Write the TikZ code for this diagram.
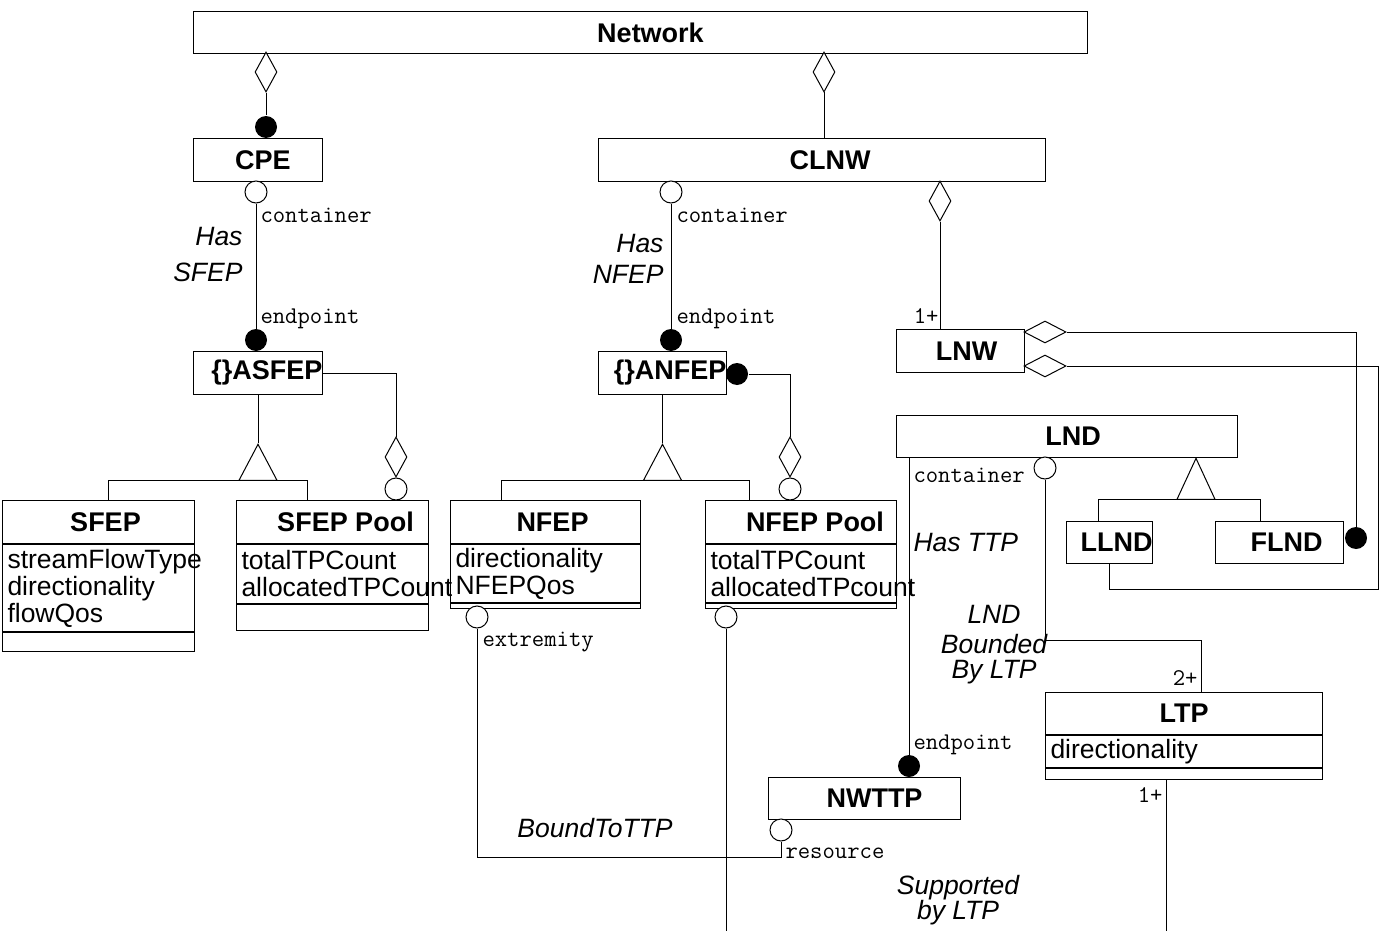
\documentclass[tikz,border=0pt]{standalone}
\usepackage{fontspec}
\setmainfont{Liberation Sans}
\usepackage{tikz}
\usetikzlibrary{shapes.geometric,positioning}

\newcommand\clsfont{\fontsize{27}{30}\selectfont\bfseries}
\newcommand\attrfont{\fontsize{26.5}{27}\selectfont\hyphenpenalty=10000\relax}
\newcommand\rolefont{\fontsize{24}{26}\selectfont\ttfamily}
\newcommand\assocfont{\fontsize{26.5}{27}\selectfont\itshape}

\begin{document}
\begin{tikzpicture}[x=1pt, y=-1pt, line width=1pt,
  cls/.style={draw, rectangle, anchor=north west, inner sep=0pt, font=\clsfont},
  nudge/.style={execute at begin node={\hspace*{#1}}},
  attr/.style={draw, rectangle, anchor=north west, inner xsep=5pt, inner ysep=0pt,
               font=\attrfont, align=left},
  ops/.style={draw, rectangle, anchor=north west, inner sep=0pt},
  agg/.style={draw, diamond, fill=white, inner sep=0pt, minimum width=22pt, minimum height=40pt},
  aggh/.style={agg, minimum width=42pt, minimum height=22pt},
  role/.style={draw, circle, fill=white, inner sep=0pt, minimum size=22pt},
  dot/.style={circle, fill=black, inner sep=0pt, minimum size=22pt},
  gen/.style={draw, isosceles triangle, isosceles triangle stretches, shape border rotate=90,
              inner sep=0pt, minimum width=38pt, minimum height=36pt, fill=white},
  rl/.style={font=\rolefont, inner sep=0pt},
  asc/.style={font=\assocfont, inner sep=0pt, align=center}
]
\useasboundingbox (0,0) rectangle (1384,931);

% ======= classes =======
\node[cls, nudge=20pt, minimum width=894pt, minimum height=42pt] (network) at (193,11) {Network};
\node[cls, nudge=10pt, minimum width=129pt, minimum height=43pt] (cpe) at (193,138) {CPE};
\node[cls, nudge=16pt, minimum width=447pt, minimum height=43pt] (clnw) at (598,138) {CLNW};
\node[cls, minimum width=129pt, minimum height=43pt, text width=129pt, align=right] (asfep) at (193,351) {\{\}ASFEP};
\node[cls, minimum width=128pt, minimum height=43pt, text width=128pt, align=right] (anfep) at (598,351) {\{\}ANFEP};

\node[cls, nudge=14pt, minimum width=192pt, minimum height=43pt] (sfep) at (2,500) {SFEP};
\node[attr, text width=182pt, minimum height=87pt] (sfepAttr) at (sfep.south west) {streamFlowType\\directionality\\flowQos};
\node[ops, minimum width=192pt, minimum height=19pt] (sfepOps) at (sfepAttr.south west) {};

\node[cls, nudge=26pt, minimum width=192pt, minimum height=43pt] (sfepPool) at (236,500) {SFEP Pool};
\node[attr, text width=182pt, minimum height=59pt] (sfepPoolAttr) at (sfepPool.south west) {totalTPCount\\allocatedTPCount};
\node[ops, minimum width=192pt, minimum height=26pt] (sfepPoolOps) at (sfepPoolAttr.south west) {};

\node[cls, nudge=14pt, minimum width=190pt, minimum height=43pt] (nfep) at (450,500) {NFEP};
\node[attr, text width=180pt, minimum height=58pt] (nfepAttr) at (nfep.south west) {directionality\\NFEPQos};
\node[ops, minimum width=190pt, minimum height=5pt] (nfepOps) at (nfepAttr.south west) {};

\node[cls, nudge=28pt, minimum width=191pt, minimum height=43pt] (nfepPool) at (705,500) {NFEP Pool};
\node[attr, text width=181pt, minimum height=58pt] (nfepPoolAttr) at (nfepPool.south west) {totalTPCount\\allocatedTPcount};
\node[ops, minimum width=191pt, minimum height=5pt] (nfepPoolOps) at (nfepPoolAttr.south west) {};

\node[cls, nudge=12pt, minimum width=128pt, minimum height=43pt] (lnw) at (896,329) {LNW};
\node[cls, nudge=12pt, minimum width=341pt, minimum height=42pt] (lnd) at (896,415) {LND};
\node[cls, minimum width=86pt, minimum height=42pt, text width=86pt, align=right] (llnd) at (1066,521) {LLND};
\node[cls, nudge=14pt, minimum width=128pt, minimum height=42pt] (flnd) at (1215,521) {FLND};
\node[cls, nudge=20pt, minimum width=192pt, minimum height=42pt] (nwttp) at (768,777) {NWTTP};

\node[cls, minimum width=277pt, minimum height=42pt] (ltp) at (1045,692) {LTP};
\node[attr, text width=267pt, minimum height=32pt] (ltpAttr) at (ltp.south west) {directionality};
\node[ops, minimum width=277pt, minimum height=11pt] (ltpOps) at (ltpAttr.south west) {};

% ======= Network aggregations =======
\node[agg] (netCpe) at (266,72) {};
\node[dot] (cpeEnd) at (266,127) {};
\draw (netCpe) -- (cpeEnd);
\node[agg] (netClnw) at (824,72) {};
\draw (netClnw) -- (netClnw.south |- clnw.north);

% ======= Has SFEP =======
\node[role] (cpeCont) at (256,192) {};
\node[dot] (asfepEnd) at (256,340) {};
\draw (cpeCont) -- (asfepEnd);
\node[rl, anchor=west] (cpeContLbl) at (260,215) {container};
\node[rl, anchor=west] (asfepEndLbl) at (260,319) {endpoint};
\node[asc, anchor=east, align=right] (hasSfep) at (243,255) {Has\\[9pt]SFEP};

\node[agg] (asfepAgg) at (396,457) {};
\node[role] (sfepPoolPart) at (396,489) {};
\draw (asfep.east) -| (asfepAgg.north);

\node[gen, below=48pt of asfep, anchor=apex] (asfepGen) {};
\draw (asfep) -- (asfepGen.apex);
\coordinate (sfepUp) at (108,500);
\coordinate (sfepPoolUp) at (307,500);
\draw (sfepUp) |- (sfepPoolUp |- asfepGen.lower side) -- (sfepPoolUp);

% ======= Has NFEP =======
\node[role] (clnwCont) at (671,192) {};
\node[dot] (anfepEnd) at (671,340) {};
\draw (clnwCont) -- (anfepEnd);
\node[rl, anchor=west] (clnwContLbl) at (676,215) {container};
\node[rl, anchor=west] (anfepEndLbl) at (676,319) {endpoint};
\node[asc, anchor=east, align=right] (hasNfep) at (664,259) {Has\\[4pt]NFEP};

\node[dot] (anfepWhole) at (737,374) {};
\node[agg] (anfepAgg) at (790,457) {};
\node[role] (nfepPoolPart) at (790,489) {};
\draw (anfepWhole) -| (anfepAgg.north);

\node[gen, below=48pt of anfep, anchor=apex] (anfepGen) {};
\draw (anfep) -- (anfepGen.apex);
\coordinate (nfepUp) at (501,500);
\coordinate (nfepPoolUp) at (749,500);
\draw (nfepUp) |- (nfepPoolUp |- anfepGen.lower side) -- (nfepPoolUp);

% ======= BoundToTTP / Supported by LTP =======
\node[role] (nfepExt) at (477,617) {};
\node[role] (nwttpRes) at (781,830) {};
\coordinate (boundCorner) at (477,857);
\draw (nfepExt) -- (boundCorner) -| (nwttpRes);
\node[rl, anchor=west] (nfepExtLbl) at (482,642) {extremity};
\node[rl, anchor=west] (nwttpResLbl) at (785,853) {resource};
\node[asc] (boundTo) at (595,828) {BoundToTTP};

\node[role] (nfepPoolSup) at (726,617) {};
\coordinate (supEnd) at (726,931);
\draw (nfepPoolSup) -- (supEnd);
\node[asc, font=\fontsize{26.5}{21}\selectfont\itshape] (supBy) at (958,900) {Supported\\by LTP};

% ======= CLNW / LNW =======
\node[agg] (clnwLnw) at (940,201) {};
\draw (clnwLnw) -- (clnwLnw.south |- lnw.north);
\node[rl, anchor=east] (lnwMult) at (939,316) {1+};

\node[aggh] (lnwFlnd) at (1045,332) {};
\node[aggh] (lnwLlnd) at (1045,366) {};
\node[dot] (flndPart) at (1356,538) {};
\draw (lnwFlnd) -| (flndPart);
\coordinate (llndLoop) at (1378,589);
\draw (lnwLlnd) -| (llndLoop) -| (llnd);

% ======= LND =======
\node[gen, minimum height=41pt, anchor=apex] (lndGen) at (1196,457) {};
\coordinate (llndUp) at (1098,521);
\coordinate (flndUp) at (1260,521);
\draw (llndUp) |- (flndUp |- lndGen.lower side) -- (flndUp);

\node[role] (lndCont) at (1045,468) {};
\coordinate (ltpIn) at (1201,692);
\draw (lndCont) -- ++(0,172) -| (ltpIn);
\node[rl, anchor=west] (lndContLbl) at (913,475) {container};
\node[rl, anchor=east] (ltpMult) at (1198,678) {2+};
\node[asc] (lndBounded) at (994,645) {LND\\[3pt]Bounded\\[-2pt]By LTP};

\node[dot] (nwttpEnd) at (909,766) {};
\draw (nwttpEnd |- lnd.south) -- (nwttpEnd);
\node[rl, anchor=west] (nwttpEndLbl) at (913,745) {endpoint};
\node[asc, anchor=west] (hasTtp) at (913,543) {Has TTP};

\coordinate (ltpDown) at (1166,931);
\draw (ltpDown |- ltpOps.south) -- (ltpDown);
\node[rl, anchor=east] (ltpDownMult) at (1163,795) {1+};

\end{tikzpicture}
\end{document}
